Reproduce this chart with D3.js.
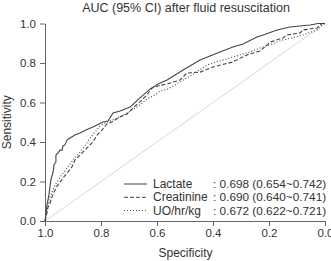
<!DOCTYPE html>
<html>
<head>
<meta charset="utf-8">
<script src="https://cdn.jsdelivr.net/npm/d3@7"></script>
<style>
  body { margin: 0; background: #fff; }
  svg text { font-family: Arial, "Liberation Sans", sans-serif; fill: #333; }
  .axis path, .axis line { stroke: #666; }
  .axis text { font-size: 11.5px; fill: #333; }
</style>
</head>
<body>
<div id="chart"></div>
<script>
// [specificity, sensitivity]
const lactate = [[1.000,0.000],[0.996,0.041],[0.993,0.081],[0.986,0.132],[0.979,0.208],[0.971,0.248],
  [0.968,0.284],[0.961,0.299],[0.961,0.334],[0.954,0.344],[0.946,0.359],[0.939,0.359],[0.936,0.380],
  [0.929,0.385],[0.921,0.410],[0.911,0.420],[0.893,0.435],[0.875,0.446],[0.854,0.461],[0.829,0.476],
  [0.793,0.501],[0.775,0.506],[0.757,0.547],[0.732,0.557],[0.696,0.577],[0.661,0.623],[0.625,0.668],
  [0.596,0.694],[0.564,0.714],[0.507,0.765],[0.446,0.815],[0.375,0.856],[0.329,0.881],[0.293,0.896],
  [0.243,0.932],[0.221,0.942],[0.171,0.967],[0.125,0.982],[0.089,0.987],[0.054,0.992],[0.025,1.000],[0.000,1.000]];

const creatinine = [[1.000,0.000],[0.996,0.020],[0.993,0.041],[0.989,0.071],[0.982,0.091],[0.975,0.122],
  [0.964,0.157],[0.957,0.177],[0.946,0.197],[0.936,0.218],[0.921,0.243],[0.904,0.273],[0.893,0.309],
  [0.875,0.334],[0.850,0.370],[0.829,0.400],[0.814,0.435],[0.796,0.461],[0.779,0.491],[0.761,0.501],
  [0.732,0.527],[0.707,0.542],[0.686,0.572],[0.661,0.603],[0.636,0.638],[0.618,0.673],[0.596,0.684],
  [0.564,0.694],[0.518,0.714],[0.493,0.749],[0.446,0.754],[0.400,0.780],[0.329,0.805],[0.279,0.841],
  [0.232,0.861],[0.207,0.891],[0.196,0.906],[0.150,0.927],[0.136,0.942],[0.089,0.952],[0.079,0.967],
  [0.029,0.977],[0.018,0.992],[0.011,1.000],[0.000,1.000]];

const uo = [[1.000,0.000],[0.996,0.030],[0.993,0.056],[0.982,0.122],[0.964,0.182],[0.946,0.223],
  [0.921,0.268],[0.900,0.309],[0.875,0.349],[0.857,0.380],[0.839,0.420],[0.821,0.451],[0.804,0.481],
  [0.779,0.501],[0.750,0.516],[0.707,0.547],[0.661,0.587],[0.636,0.618],[0.614,0.633],[0.589,0.658],
  [0.561,0.668],[0.518,0.704],[0.482,0.734],[0.421,0.790],[0.400,0.800],[0.329,0.830],[0.268,0.856],
  [0.232,0.876],[0.150,0.916],[0.079,0.942],[0.029,0.967],[0.011,0.992],[0.000,1.000]];

const seriesNames = ["Lactate", "Creatinine", "UO/hr/kg"];
const aucLabels = [": 0.698 (0.654~0.742)", ": 0.690 (0.640~0.741)", ": 0.672 (0.622~0.721)"];
const ticks = [0, 0.2, 0.4, 0.6, 0.8, 1.0];

const width = 331, height = 261;
const margin = {top: 23.5, right: 6, bottom: 40, left: 45};

const svg = d3.select("#chart").append("svg")
  .attr("width", width)
  .attr("height", height);

const x = d3.scaleLinear().domain([1, 0]).range([margin.left, width - margin.right]);
const y = d3.scaleLinear().domain([0, 1]).range([height - margin.bottom, margin.top]);

// reference diagonal
svg.append("line")
  .attr("x1", x(1)).attr("y1", y(0))
  .attr("x2", x(0)).attr("y2", y(1))
  .attr("stroke", "#d8d8d8")
  .attr("stroke-width", 1);

svg.append("g")
  .attr("class", "axis")
  .attr("transform", `translate(0,${y(0)})`)
  .call(d3.axisBottom(x).tickValues(ticks).tickFormat(d3.format(".1f")).tickSize(5).tickSizeOuter(0).tickPadding(3));

svg.append("g")
  .attr("class", "axis")
  .attr("transform", `translate(${x(1)},0)`)
  .call(d3.axisLeft(y).tickValues(ticks).tickFormat(d3.format(".1f")).tickSize(5).tickSizeOuter(0).tickPadding(4));

const line = d3.line().x(d => x(d[0])).y(d => y(d[1]));

const series = [
  {data: lactate, dash: null},
  {data: creatinine, dash: "4,2"},
  {data: uo, dash: "1,2"}
];

series.forEach(s => {
  svg.append("path")
    .datum(s.data)
    .attr("d", line)
    .attr("fill", "none")
    .attr("stroke", "#444")
    .attr("stroke-width", 1.1)
    .attr("stroke-dasharray", s.dash);
});

// legend
const leg = svg.append("g");
seriesNames.forEach((n, i) => {
  const ly = 184 + i * 13.3;
  leg.append("line")
    .attr("x1", 124).attr("x2", 147)
    .attr("y1", ly).attr("y2", ly)
    .attr("stroke", "#444")
    .attr("stroke-dasharray", series[i].dash);
  leg.append("text")
    .attr("x", 153).attr("y", ly + 4)
    .attr("font-size", 12)
    .text(n);
  leg.append("text")
    .attr("x", 213).attr("y", ly + 4)
    .attr("font-size", 11.8)
    .text(aucLabels[i]);
});

svg.append("text")
  .attr("x", 186).attr("y", 12)
  .attr("text-anchor", "middle")
  .attr("font-size", 12.5)
  .text("AUC (95% CI) after fluid resuscitation");

svg.append("text")
  .attr("x", 185.5).attr("y", 256.5)
  .attr("text-anchor", "middle")
  .attr("font-size", 12)
  .text("Specificity");

svg.append("text")
  .attr("transform", `translate(11,${y(0.5)}) rotate(-90)`)
  .attr("text-anchor", "middle")
  .attr("font-size", 12)
  .text("Sensitivity");
</script>
</body>
</html>
